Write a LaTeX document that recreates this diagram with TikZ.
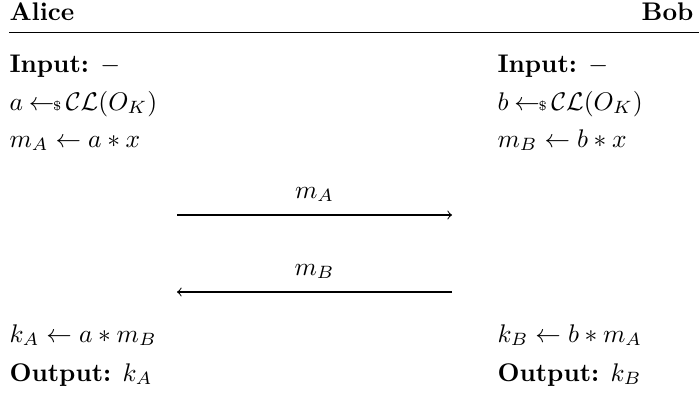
\documentclass[tikz,border=0pt]{standalone}
\usepackage{amsmath,amssymb}
\usetikzlibrary{positioning}
\newcommand{\sampleop}{\hskip2.3pt{\gets\!\!\mbox{\tiny${\$}$\normalsize}}\,}
\tikzset{
  line/.style={anchor=base west,inner sep=0pt},
  party/.style={inner sep=0pt,font=\bfseries}
}

\begin{document}
\begin{tikzpicture}[x=0.3922pt,y=0.3922pt]
        \useasboundingbox (0,0) rectangle (700,393);
        % header
        \node[party,anchor=base west] (alice) at (9,373) {Alice};
        \node[party,anchor=base east] (bob) at (694,373) {Bob};
        \coordinate (ruleL) at (9,360.5);
        \coordinate (ruleR) at (699,360.5);
        \draw[line width=0.5pt] (ruleL) -- (ruleR);
        % Alice
        \node[line] (inA) at (9,321) {\textbf{Input:} $-$};
        \node[line] (sampleA) at (9,283) {$a \sampleop \mathcal{CL}(O_K)$};
        \node[line] (msgA) at (9,246) {$m_A \gets a * x$};
        \node[line] (keyA) at (9,51) {$k_A \gets a * m_B$};
        \node[line] (outA) at (9,12) {\textbf{Output:} $k_A$};
        % Bob
        \node[line] (inB) at (497,321) {\textbf{Input:} $-$};
        \node[line] (sampleB) at (497,283) {$b \sampleop \mathcal{CL}(O_K)$};
        \node[line] (msgB) at (497,246) {$m_B \gets b * x$};
        \node[line] (keyB) at (497,51) {$k_B \gets b * m_A$};
        \node[line] (outB) at (497,12) {\textbf{Output:} $k_B$};
        % messages
        \coordinate (sendA) at (177,178);
        \coordinate (recvA) at (452,178);
        \coordinate (sendB) at (452,101);
        \coordinate (recvB) at (177,101);
        \draw[->] (sendA) -- (recvA);
        \draw[->] (sendB) -- (recvB);
        \node[anchor=base,inner sep=0pt] (lblA) at (314.5,195) {$m_A$};
        \node[anchor=base,inner sep=0pt] (lblB) at (314.5,118) {$m_B$};
      \end{tikzpicture}
\end{document}
